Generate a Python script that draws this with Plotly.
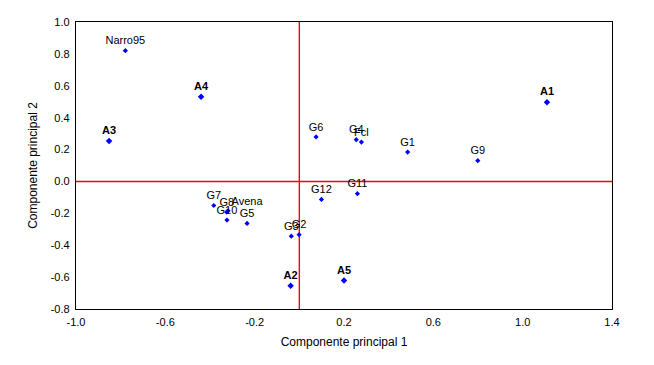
import plotly.graph_objects as go

# Data: genotypes (normal labels) and environments (bold labels)
gen_names = ["Narro95", "G6", "G4", "Fcl", "G1", "G9", "G12", "G11", "G7", "G8",
             "Avena", "G10", "G5", "G3", "G2"]
gen_x = [-0.779, 0.075, 0.255, 0.278, 0.485, 0.799, 0.099, 0.260, -0.383, -0.325,
         -0.319, -0.324, -0.234, -0.036, -0.001]
gen_y = [0.820, 0.279, 0.262, 0.247, 0.184, 0.130, -0.113, -0.077, -0.151, -0.192,
         -0.184, -0.242, -0.263, -0.343, -0.334]
gen_pos = ["top center"] * 10 + ["top right"] + ["top center"] * 4

env_names = ["A1", "A2", "A3", "A4", "A5"]
env_x = [1.109, -0.039, -0.852, -0.440, 0.200]
env_y = [0.496, -0.654, 0.253, 0.531, -0.621]

x_ticks = [-1.0, -0.6, -0.2, 0.2, 0.6, 1.0, 1.4]
y_ticks = [-0.8, -0.6, -0.4, -0.2, 0.0, 0.2, 0.4, 0.6, 0.8, 1.0]

FONT = "Arial, Liberation Sans, sans-serif"

fig = go.Figure()
fig.add_trace(go.Scatter(
    x=gen_x, y=gen_y, mode="markers+text", text=gen_names,
    textposition=gen_pos,
    marker=dict(symbol="diamond", size=4, color="#0000FF"),
    textfont=dict(family=FONT, size=11, color="#000000"),
    showlegend=False, cliponaxis=False))
fig.add_trace(go.Scatter(
    x=env_x, y=env_y, mode="markers+text",
    text=["<b>" + n + "</b>" for n in env_names],
    textposition="top center",
    marker=dict(symbol="diamond", size=5, color="#0000FF"),
    textfont=dict(family=FONT, size=11, color="#000000"),
    showlegend=False, cliponaxis=False))

# reference lines at zero
fig.add_shape(type="line", xref="x", yref="paper", x0=0, x1=0, y0=0, y1=1,
              line=dict(color="#FF0000", width=1.4), layer="below")
fig.add_shape(type="line", xref="paper", yref="y", x0=0, x1=1, y0=0, y1=0,
              line=dict(color="#FF0000", width=1.4), layer="below")

fig.update_layout(
    width=654, height=365,
    margin=dict(l=76, r=42, t=22, b=56),
    paper_bgcolor="white", plot_bgcolor="white",
    font=dict(family=FONT, size=11, color="#000000"),
    xaxis=dict(range=[-1.0, 1.4], tickvals=x_ticks,
               ticktext=[f"{v:.1f}" for v in x_ticks],
               showgrid=False, zeroline=False, showline=True, linecolor="black",
               linewidth=1.3, mirror=True, ticks="outside", ticklen=3,
               tickcolor="rgba(0,0,0,0)", automargin=False,
               title=dict(text="Componente principal 1", standoff=10,
                          font=dict(size=12)),
               tickfont=dict(size=11)),
    yaxis=dict(range=[-0.8, 1.0], tickvals=y_ticks,
               ticktext=[f"{v:.1f}" for v in y_ticks],
               showgrid=False, zeroline=False, showline=True, linecolor="black",
               linewidth=1.3, mirror=True, ticks="outside", ticklen=3,
               tickcolor="rgba(0,0,0,0)", automargin=False,
               title=dict(text="Componente principal 2", standoff=10,
                          font=dict(size=12)),
               tickfont=dict(size=11)),
    xaxis2=dict(range=[-1.0, 1.4], tickvals=x_ticks, overlaying="x", side="top",
                anchor="y", showticklabels=False, ticks="inside", ticklen=3,
                tickcolor="black", showgrid=False, zeroline=False, showline=False,
                automargin=False),
)

fig.write_html("out.html",
               config={"displayModeBar": False},
               post_script="document.body.style.margin='0';"
                           "document.body.style.overflow='hidden';")
